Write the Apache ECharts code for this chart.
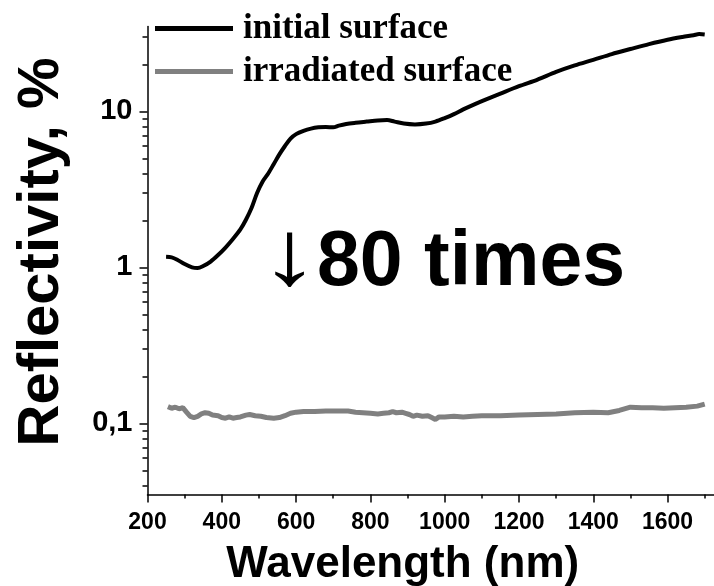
<!DOCTYPE html>
<html>
<head>
<meta charset="utf-8">
<script src="https://cdn.jsdelivr.net/npm/echarts@6/dist/echarts.min.js"></script>
<style>
  html, body { margin: 0; padding: 0; background: #fff; }
  #chart { width: 714px; height: 586px; }
</style>
</head>
<body>
<div id="chart"></div>
<script>
// Reflectivity spectra (wavelength in nm, reflectivity in %)
const initialWavelength = [250, 265, 280, 300, 320, 335, 350, 370, 390, 410, 430, 450, 465, 480, 495, 510, 525, 540, 555, 570, 585, 600, 620, 640, 660, 680, 700, 715, 735, 760, 790, 820, 845, 865, 890, 920, 950, 975, 1000, 1025, 1050, 1080, 1110, 1150, 1200, 1250, 1300, 1350, 1400, 1450, 1500, 1550, 1600, 1640, 1670, 1685, 1700];
const initialReflectivity = [1.17, 1.16, 1.12, 1.05, 1.0, 0.99, 1.02, 1.09, 1.2, 1.34, 1.52, 1.75, 2.02, 2.4, 3.0, 3.55, 4.0, 4.6, 5.3, 6.0, 6.7, 7.15, 7.5, 7.75, 7.9, 7.95, 7.9, 8.1, 8.3, 8.45, 8.6, 8.75, 8.8, 8.6, 8.35, 8.25, 8.35, 8.6, 9.05, 9.6, 10.3, 11.1, 11.9, 13.0, 14.5, 16.0, 17.9, 19.7, 21.4, 23.3, 25.1, 27.0, 28.8, 30.0, 30.8, 31.3, 31.1];

const irradiatedWavelength = [255, 265, 275, 285, 295, 305, 315, 325, 335, 345, 355, 365, 375, 390, 400, 410, 420, 430, 440, 450, 465, 475, 490, 505, 520, 540, 555, 570, 585, 600, 620, 650, 680, 710, 740, 760, 780, 800, 820, 835, 850, 860, 870, 885, 895, 905, 915, 925, 940, 955, 965, 975, 985, 1000, 1025, 1050, 1075, 1100, 1150, 1200, 1250, 1300, 1350, 1400, 1440, 1470, 1500, 1530, 1560, 1590, 1620, 1650, 1680, 1700];
const irradiatedReflectivity = [0.128, 0.125, 0.127, 0.124, 0.126, 0.118, 0.111, 0.109, 0.111, 0.115, 0.117, 0.116, 0.113, 0.112, 0.109, 0.108, 0.110, 0.108, 0.109, 0.110, 0.113, 0.114, 0.112, 0.111, 0.109, 0.108, 0.109, 0.112, 0.116, 0.118, 0.119, 0.119, 0.120, 0.120, 0.120, 0.118, 0.117, 0.116, 0.115, 0.116, 0.117, 0.119, 0.117, 0.118, 0.116, 0.114, 0.111, 0.113, 0.111, 0.112, 0.109, 0.106, 0.110, 0.110, 0.111, 0.110, 0.111, 0.112, 0.112, 0.113, 0.114, 0.115, 0.117, 0.118, 0.117, 0.121, 0.127, 0.126, 0.126, 0.125, 0.126, 0.127, 0.129, 0.133];

const seriesNames = ['initial surface', 'irradiated surface'];

// Axis ticks
const xMajorTicks = [200, 400, 600, 800, 1000, 1200, 1400, 1600];
const xMinorTicks = [300, 500, 700, 900, 1100, 1300, 1500, 1700];
const yMajorTicks = [0.1, 1, 10];
const yMinorTicks = [0.04, 0.05, 0.06, 0.07, 0.08, 0.09, 0.2, 0.3, 0.4, 0.5, 0.6, 0.7, 0.8, 0.9, 2, 3, 4, 5, 6, 7, 8, 9, 20, 30];

const X_MIN = 200, X_MAX = 1725;
const Y_MIN = 0.035, Y_MAX = 35;

const zip = (xs, ys) => xs.map((x, i) => [x, ys[i]]);

const SANS = 'Arial, "Liberation Sans", Helvetica, sans-serif';
const SERIF = '"Times New Roman", "Liberation Serif", serif';

const axisLine = { show: true, lineStyle: { color: '#000', width: 1.5 } };
const tickLine = { color: '#000', width: 1.5 };

const chart = echarts.init(document.getElementById('chart'), null, { renderer: 'canvas' });

chart.setOption({
  animation: false,
  backgroundColor: '#fff',
  grid: { left: 147.5, right: 0, top: 26.5, bottom: 91.5, containLabel: false, outerBoundsMode: 'none' },
  legend: {
    orient: 'vertical',
    left: 155,
    top: 11,
    padding: 0,
    icon: 'rect',
    itemWidth: 78,
    itemHeight: 5,
    itemGap: 8,
    selectedMode: false,
    data: seriesNames,
    textStyle: {
      fontFamily: SERIF,
      fontWeight: 'bold',
      fontSize: 35,
      color: '#000',
      padding: [0, 0, 0, 5]
    }
  },
  xAxis: [
    {
      type: 'value',
      position: 'bottom',
      min: X_MIN,
      max: X_MAX,
      axisLine: axisLine,
      splitLine: { show: false },
      axisTick: { show: true, customValues: xMajorTicks, length: 8, lineStyle: tickLine },
      axisLabel: {
        customValues: xMajorTicks,
        margin: 17,
        color: '#000',
        fontFamily: SANS,
        fontWeight: 'bold',
        fontSize: 23,
        formatter: v => String(v)
      },
      name: 'Wavelength (nm)',
      nameLocation: 'middle',
      nameGap: 48,
      nameTextStyle: {
        fontFamily: SANS,
        fontWeight: 'bold',
        fontSize: 44,
        color: '#000',
        padding: [0, 56, 0, 0]
      }
    },
    {
      type: 'value',
      position: 'bottom',
      min: X_MIN,
      max: X_MAX,
      axisLine: { show: false },
      splitLine: { show: false },
      axisLabel: { show: false },
      axisTick: { show: true, customValues: xMinorTicks, length: 4, lineStyle: tickLine }
    }
  ],
  yAxis: [
    {
      type: 'log',
      logBase: 10,
      position: 'left',
      min: Y_MIN,
      max: Y_MAX,
      axisLine: axisLine,
      splitLine: { show: false },
      axisTick: { show: true, customValues: yMajorTicks, length: 8, lineStyle: tickLine },
      axisLabel: {
        customValues: yMajorTicks,
        margin: 15,
        color: '#000',
        fontFamily: SANS,
        fontWeight: 'bold',
        fontSize: 29,
        formatter: v => String(v).replace('.', ',')
      },
      name: 'Reflectivity, %',
      nameLocation: 'middle',
      nameRotate: 90,
      nameGap: 77,
      nameTextStyle: {
        fontFamily: SANS,
        fontWeight: 'bold',
        fontSize: 58,
        color: '#000',
        padding: [0, 0, 0, 17]
      }
    },
    {
      type: 'log',
      logBase: 10,
      position: 'left',
      min: Y_MIN,
      max: Y_MAX,
      axisLine: { show: false },
      splitLine: { show: false },
      axisLabel: { show: false },
      axisTick: { show: true, customValues: yMinorTicks, length: 5, lineStyle: tickLine }
    }
  ],
  series: [
    {
      name: seriesNames[0],
      type: 'line',
      xAxisIndex: 0,
      yAxisIndex: 0,
      data: zip(initialWavelength, initialReflectivity),
      showSymbol: false,
      smooth: 0.3,
      color: '#000',
      lineStyle: { color: '#000', width: 4 },
      z: 3
    },
    {
      name: seriesNames[1],
      type: 'line',
      xAxisIndex: 0,
      yAxisIndex: 0,
      data: zip(irradiatedWavelength, irradiatedReflectivity),
      showSymbol: false,
      color: '#808080',
      lineStyle: { color: '#808080', width: 5 },
      z: 2
    }
  ],
  graphic: [
    {
      // thin, wide-headed down arrow before the label
      type: 'text',
      x: 259,
      y: 213,
      scaleX: 1.33,
      style: {
        text: '\u2193',
        fontFamily: SANS,
        fontWeight: 'normal',
        fontSize: 92,
        fill: '#000',
        align: 'left',
        verticalAlign: 'top'
      }
    },
    {
      type: 'text',
      left: 317,
      top: 225,
      style: {
        text: '80 times',
        fontFamily: SANS,
        fontWeight: 'bold',
        fontSize: 77,
        fill: '#000'
      }
    }
  ]
});
</script>
</body>
</html>
